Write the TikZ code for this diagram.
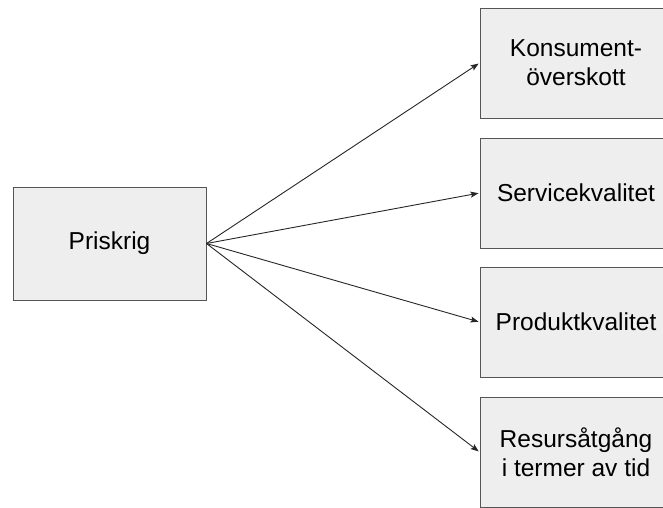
\documentclass[tikz,border=0pt]{standalone}
\usepackage{fontspec}
\setmainfont{Liberation Sans}
\usetikzlibrary{positioning,arrows.meta}
\definecolor{boxfill}{HTML}{EEEEEE}
\definecolor{boxline}{HTML}{555555}

\begin{document}
\begin{tikzpicture}[x=1pt, y=-1pt,
  box/.style={draw=boxline, fill=boxfill, line width=1pt, minimum width=192pt, minimum height=110pt, inner sep=0pt, align=center, font=\fontsize{24.5}{29}\selectfont},
  pil/.style={-{Stealth[length=8pt, width=6pt, inset=1.5pt]}, line width=0.9pt, draw=black!85, shorten >=1pt}]
\useasboundingbox (0,0) rectangle (663,507);
\node[box, minimum height=113pt, minimum width=193pt] (pris) at (109.5,243.5) {Priskrig};
%effekter
\foreach \n/\y/\txt in {kons/63/{Konsument-\\överskott}, serv/193/Servicekvalitet, prod/322/Produktkvalitet, res/452/{Resursåtgång\\i termer av tid}}{
  \node[box] (\n) at (576,\y) {\txt};
  \draw[pil] (pris.east) -- (\n.west);
}
\end{tikzpicture}
\end{document}
